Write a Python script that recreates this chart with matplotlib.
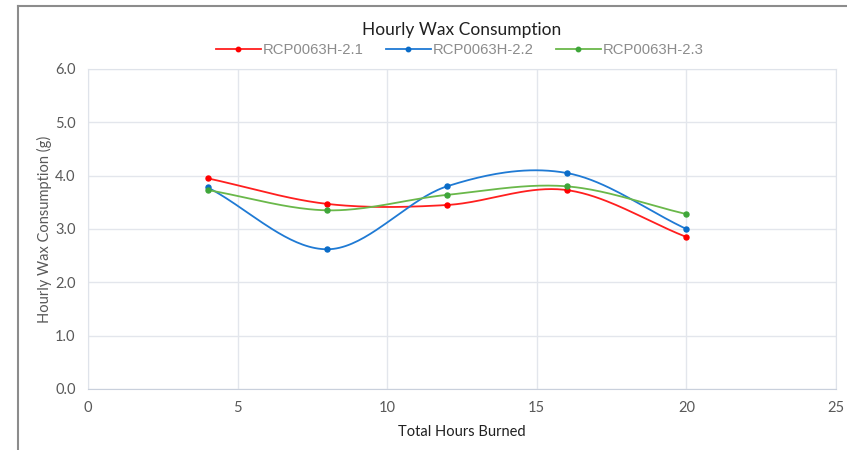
import numpy as np
import matplotlib.pyplot as plt
from matplotlib.lines import Line2D

# Data
hours = [4, 8, 12, 16, 20]
series_names = ['RCP0063H-2.1', 'RCP0063H-2.2', 'RCP0063H-2.3']
wax_21 = [3.95, 3.47, 3.45, 3.73, 2.85]
wax_22 = [3.78, 2.62, 3.80, 4.05, 3.00]
wax_23 = [3.73, 3.35, 3.64, 3.80, 3.28]
colors = ['#ff1f1f', '#1f7ad4', '#6ab84a']
marker_colors = ['#ff0000', '#0a6cc8', '#3fa63a']


# Smooth curve through the points (similar to Excel "smoothed line")
def smooth(x, y, n=40):
    x = np.asarray(x, float)
    y = np.asarray(y, float)
    px = np.concatenate([[2 * x[0] - x[1]], x, [2 * x[-1] - x[-2]]])
    py = np.concatenate([[2 * y[0] - y[1]], y, [2 * y[-1] - y[-2]]])
    xs, ys = [], []
    t = np.linspace(0, 1, n)
    for i in range(1, len(px) - 2):
        p0, p1, p2, p3 = px[i-1:i+3]
        q0, q1, q2, q3 = py[i-1:i+3]
        bx = 0.5 * ((2 * p1) + (-p0 + p2) * t + (2*p0 - 5*p1 + 4*p2 - p3) * t**2
                    + (-p0 + 3*p1 - 3*p2 + p3) * t**3)
        by = 0.5 * ((2 * q1) + (-q0 + q2) * t + (2*q0 - 5*q1 + 4*q2 - q3) * t**2
                    + (-q0 + 3*q1 - 3*q2 + q3) * t**3)
        xs.extend(bx)
        ys.extend(by)
    return xs, ys


fig = plt.figure(figsize=(8.47, 4.5), dpi=100)
ax = fig.add_axes([88 / 847, 1 - 389 / 450, 748 / 847, 320 / 450])

for vals, c, mc in zip([wax_21, wax_22, wax_23], colors, marker_colors):
    sx, sy = smooth(hours, vals)
    ax.plot(sx, sy, color=c, lw=1.3, zorder=3)
    ax.plot(hours, vals, 'o', color=mc, ms=3.6, zorder=4)

ax.set_xlim(0, 25)
ax.set_ylim(0, 6)
ax.set_xticks([0, 5, 10, 15, 20, 25])
ax.set_yticks(np.arange(0, 6.1, 1.0))
ax.set_yticklabels([f'{v:.1f}' for v in np.arange(0, 6.1, 1.0)])
ax.grid(True, color='#e3e6ec', lw=1)
ax.set_axisbelow(True)
for s in ['left', 'right', 'top']:
    ax.spines[s].set_color('#dfe3ea')
ax.spines['bottom'].set_color('#c9d0dc')
ax.tick_params(length=0, colors='#595959', labelsize=10.5, pad=9)
for lab in ax.get_xticklabels() + ax.get_yticklabels():
    lab.set_family('Lato')

ax.set_xlabel('Total Hours Burned', fontsize=10.5, color='#202020', labelpad=7,
              family='Lato')
ax.set_ylabel('Hourly Wax Consumption (g)', fontsize=10.5, color='#595959',
              labelpad=2, family='Lato')

fig.text(0.545, 1 - 30 / 450, 'Hourly Wax Consumption', ha='center', va='center',
         fontsize=12.5, color='#202020', family='Lato')

handles = [Line2D([], [], color=c, lw=1.3, marker='o', ms=3.2,
                  markerfacecolor=mc, markeredgecolor=mc)
           for c, mc in zip(colors, marker_colors)]
leg = fig.legend(handles, series_names, loc='center', ncol=3,
                 bbox_to_anchor=(0.543, 1 - 50 / 450), frameon=False,
                 handlelength=3.0, handletextpad=0.15, columnspacing=1.5,
                 prop={'family': 'Liberation Sans', 'size': 10.7})
for t in leg.get_texts():
    t.set_color('#8c8c8c')

# screenshot frame on left and top
fig.add_artist(Line2D([18 / 847, 18 / 847], [0, 1 - 6 / 450], color='#8c8c8c',
                      lw=1.5, transform=fig.transFigure))
fig.add_artist(Line2D([18 / 847, 1], [1 - 6 / 450, 1 - 6 / 450], color='#8c8c8c',
                      lw=1.5, transform=fig.transFigure))

fig.savefig('out.png', dpi=100)
